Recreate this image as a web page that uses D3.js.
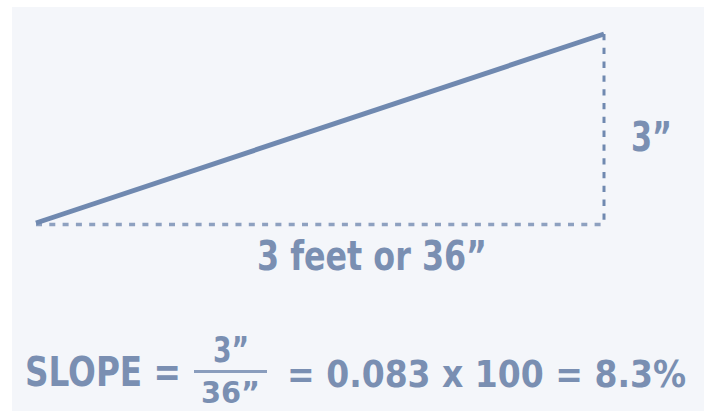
<!DOCTYPE html>
<html>
<head>
<meta charset="utf-8">
<script src="https://cdn.jsdelivr.net/npm/d3@7"></script>
<style>
  html, body { margin: 0; padding: 0; background: #ffffff; }
  svg { display: block; }
  text { font-family: "Liberation Sans Narrow", "DejaVu Sans Condensed", "Roboto", sans-serif; font-weight: bold; fill: #7a8fb2; }
</style>
</head>
<body>
<svg id="chart" width="704" height="411"></svg>
<script>
// Data
const runInches = [0, 36];      // horizontal run (3 feet)
const riseInches = [0, 3];      // vertical rise
const runLabel = "3 feet or 36”";
const riseLabel = "3”";
const formulaLeft = "SLOPE =";
const numerator = "3”";
const denominator = "36”";
const formulaRight = "= 0.083 x 100 = 8.3%";

const W = 704, H = 411;
const svg = d3.select("#chart");

// background panel
svg.append("rect").attr("x", 12).attr("y", 7).attr("width", W - 12).attr("height", H - 7).attr("fill", "#f4f6fa");

const x = d3.scaleLinear().domain([0, 36]).range([36, 604]);
const y = d3.scaleLinear().domain([0, 3]).range([223, 34]);

const lineColor = "#7089b0";

// horizontal dotted run
svg.append("line")
  .attr("x1", x(runInches[0])).attr("x2", x(runInches[1]))
  .attr("y1", y(0) + 1.5).attr("y2", y(0) + 1.5)
  .attr("stroke", "#8ea1c0").attr("stroke-width", 3.5)
  .attr("stroke-dasharray", "6,7.3");

// vertical dashed rise
svg.append("line")
  .attr("x1", x(36)).attr("x2", x(36))
  .attr("y1", y(riseInches[1])).attr("y2", y(riseInches[0]))
  .attr("stroke", lineColor).attr("stroke-width", 3)
  .attr("stroke-dasharray", "6.3,7.5");

// slope line
const pts = [[runInches[0], riseInches[0]], [runInches[1], riseInches[1]]];
svg.append("path")
  .attr("d", d3.line().x(d => x(d[0])).y(d => y(d[1]))(pts))
  .attr("stroke", lineColor).attr("stroke-width", 5).attr("fill", "none");

function txt(s, xx, yy, len, size) {
  svg.append("text").attr("x", xx).attr("y", yy)
    .attr("font-size", size)
    .attr("textLength", len).attr("lengthAdjust", "spacingAndGlyphs")
    .text(s);
}

txt(runLabel, 257, 270, 230, 40);
txt(riseLabel, 631, 151, 41, 40);
txt(formulaLeft, 25, 386, 156, 40);
txt(numerator, 213, 362, 36, 35);
svg.append("line").attr("x1", 194).attr("x2", 267).attr("y1", 371.5).attr("y2", 371.5)
  .attr("stroke", "#8a9dbd").attr("stroke-width", 3);
txt(denominator, 201, 403, 59, 31);
txt(formulaRight, 287, 387, 399, 38);
</script>
</body>
</html>
